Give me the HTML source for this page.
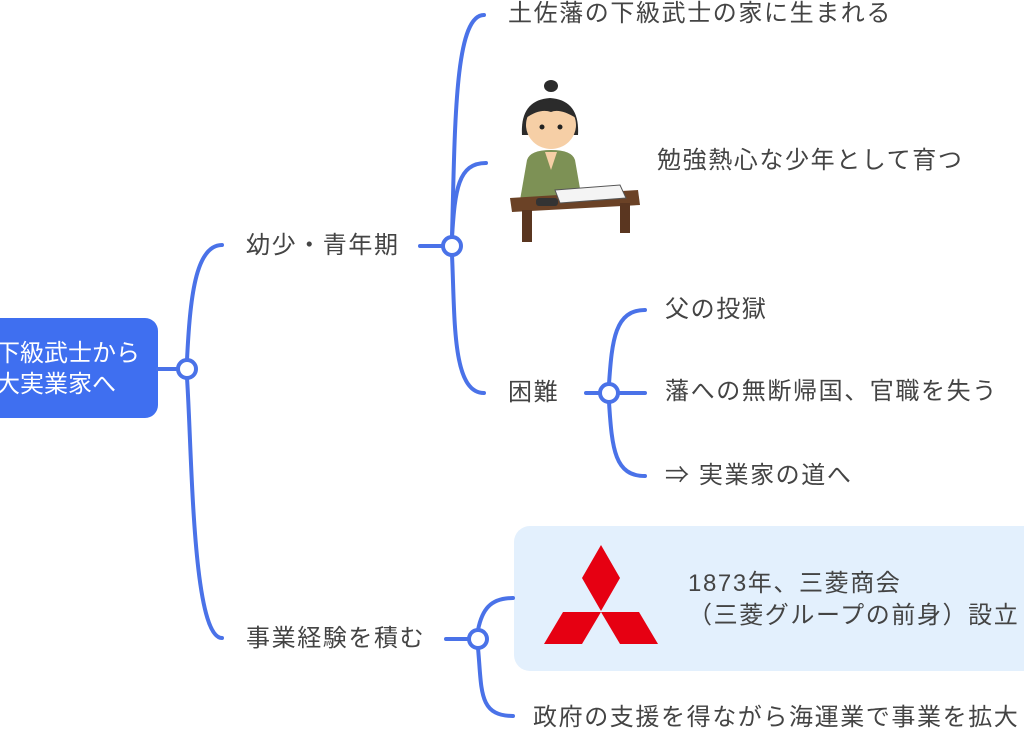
<!DOCTYPE html>
<html><head><meta charset="utf-8"><style>
html,body{margin:0;padding:0;background:#fff;}
body{width:1024px;height:731px;overflow:hidden;position:relative;font-family:"Liberation Sans","Noto Sans CJK JP",sans-serif;}
.t{position:absolute;font-size:24px;letter-spacing:1.6px;color:#444;white-space:nowrap;line-height:1;}
</style></head><body>
<svg width="1024" height="731" style="position:absolute;left:0;top:0">
<rect x="514" y="526" width="540" height="145" rx="16" fill="#e3f0fd"/>
<rect x="-20" y="318" width="178" height="100" rx="13" fill="#3f6ff0"/>
<g fill="none" stroke="#4a72e8" stroke-width="4" stroke-linecap="round">
<path d="M158 369 H178"/>
<path d="M187 360 C190 300 195 245 222 245"/>
<path d="M187 378 C192 450 192 638 222 638"/>
<path d="M420 246 H443"/>
<path d="M452 237 C455 120 455 15 484 15"/>
<path d="M452 237 C455 190 458 163 486 163"/>
<path d="M452 255 C455 320 452 393 484 393"/>
<path d="M586 393 H600"/>
<path d="M609 384 C612 340 615 310 645 310"/>
<path d="M618 393 H645"/>
<path d="M609 402 C612 450 615 476 645 476"/>
<path d="M446 639 H469"/>
<path d="M478 630 C482 610 490 598 513 598"/>
<path d="M478 648 C482 690 478 716 513 716"/>
</g>
<g fill="#fff" stroke="#4a72e8" stroke-width="4">
<circle cx="187" cy="369" r="9"/>
<circle cx="452" cy="246" r="9"/>
<circle cx="609" cy="393" r="9"/>
<circle cx="478" cy="639" r="9"/>
</g>
<g fill="#e60012">
<polygon points="601,545 620,578 601,611 582,578"/>
<polygon points="601,612 563,612 544,644 582,644"/>
<polygon points="601,612 639,612 658,644 620,644"/>
</g>
<g>
<path d="M522 135 Q520 100 550 98 Q580 100 578 135 Z" fill="#2b2b2b"/>
<ellipse cx="551" cy="86" rx="7" ry="6" fill="#2b2b2b"/>
<ellipse cx="551" cy="125" rx="25" ry="24" fill="#f6cfa6"/>
<path d="M526 118 Q530 100 551 100 Q572 100 576 118 Q560 108 551 112 Q540 108 526 118Z" fill="#2b2b2b"/>
<circle cx="542" cy="127" r="2.5" fill="#222"/><circle cx="560" cy="127" r="2.5" fill="#222"/>
<path d="M527 160 Q530 150 551 150 Q572 150 575 160 L582 200 L520 200Z" fill="#7d9155"/>
<path d="M545 152 L551 170 L557 152" fill="#f6cfa6"/>
<polygon points="510,198 638,190 640,205 512,212" fill="#6b4226"/>
<polygon points="555,190 620,185 626,198 560,203" fill="#f4f4f4" stroke="#555" stroke-width="1"/>
<rect x="522" y="210" width="10" height="32" fill="#5a3620"/>
<rect x="620" y="203" width="10" height="30" fill="#5a3620"/>
<rect x="536" y="198" width="22" height="8" rx="3" fill="#333"/>
</g>
</svg>
<div class="t" style="left:-4px;top:338px;color:#fff;font-size:24px;letter-spacing:0;line-height:31px;">下級武士から<br>大実業家へ</div>
<div class="t" style="left:246px;top:234px;">幼少・青年期</div>
<div class="t" style="left:246px;top:627px;">事業経験を積む</div>
<div class="t" style="left:508px;top:2px;">土佐藩の下級武士の家に生まれる</div>
<div class="t" style="left:657px;top:149px;">勉強熱心な少年として育つ</div>
<div class="t" style="left:508px;top:381px;">困難</div>
<div class="t" style="left:665px;top:298px;">父の投獄</div>
<div class="t" style="left:665px;top:380px;">藩への無断帰国、官職を失う</div>
<div class="t" style="left:665px;top:464px;">⇒ 実業家の道へ</div>
<div class="t" style="left:688px;top:568px;line-height:32px;">1873年、三菱商会<br>（三菱グループの前身）設立</div>
<div class="t" style="left:533px;top:706px;">政府の支援を得ながら海運業で事業を拡大</div>
</body></html>
